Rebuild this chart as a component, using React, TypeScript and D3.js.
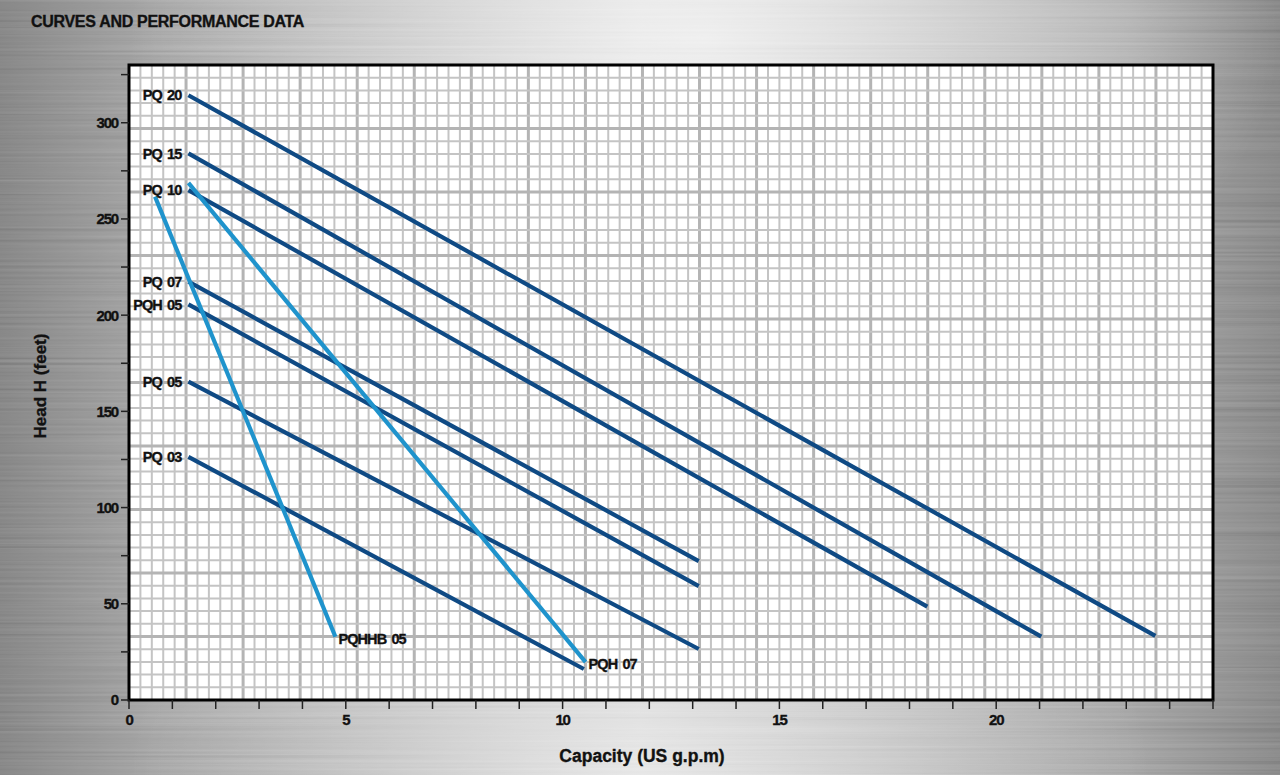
import React from "react";
import * as d3 from "d3";

const W = 1280;
const H = 775;

// Series (capacity in US gpm, head in feet)
const seriesNames = ["PQ 20", "PQ 15", "PQ 10", "PQ 07", "PQH 05", "PQ 05", "PQ 03", "PQH 07", "PQHHB 05"];
const seriesKind = ["dark", "dark", "dark", "dark", "dark", "dark", "dark", "light", "light"];
const labelAt = ["start", "start", "start", "start", "start", "start", "start", "end", "end"];
const seriesX = [
  [1.37, 23.67],
  [1.37, 21.04],
  [1.37, 18.41],
  [1.37, 13.14],
  [1.37, 13.14],
  [1.37, 13.14],
  [1.37, 10.49],
  [1.37, 10.53],
  [0.6, 4.76],
];
const seriesY = [
  [314.3, 33.3],
  [284.1, 32.9],
  [265.0, 48.5],
  [217.4, 72.2],
  [205.6, 59.2],
  [165.4, 26.5],
  [126.4, 16.1],
  [268.7, 19.7],
  [261.6, 32.9],
];

const xTicks = d3.range(0, 26, 1);
const xTickLabels = [0, 5, 10, 15, 20];
const yTicks = d3.range(0, 330, 25);
const yTickLabels = [0, 50, 100, 150, 200, 250, 300];

const GRID_COLS = 95;
const GRID_ROWS = 50;

const FONT = "'Liberation Sans', Arial, Helvetica, sans-serif";
const DARK = "#0f4a84";
const LIGHT = "#1f93cc";

export default function App() {
  const left = 129, right = 1213, top = 65, bottom = 700;
  const x = d3.scaleLinear().domain([0, 25]).range([left, right]);
  const y = d3.scaleLinear().domain([0, 330]).range([bottom, top]);
  const gx = d3.scaleLinear().domain([0, GRID_COLS]).range([left, right]);
  const gy = d3.scaleLinear().domain([0, GRID_ROWS]).range([bottom, top]);
  const line = d3.line<[number, number]>().x((d) => x(d[0])).y((d) => y(d[1]));

  const textStroke = { stroke: "#111", strokeWidth: 0.35 };

  return (
    <svg width={W} height={H} style={{ position: "absolute", left: 0, top: 0, display: "block" }}>
      <defs>
        <linearGradient id="bgH" x1="0" y1="0" x2="1" y2="0">
          <stop offset="0" stopColor="#777777" />
          <stop offset="0.12" stopColor="#a0a0a0" />
          <stop offset="0.5" stopColor="#d8d8d8" />
          <stop offset="0.88" stopColor="#a2a2a2" />
          <stop offset="1" stopColor="#7b7b7b" />
        </linearGradient>
        <radialGradient id="bgGlow" cx="0.55" cy="0.05" r="0.45">
          <stop offset="0" stopColor="#ffffff" stopOpacity="0.7" />
          <stop offset="1" stopColor="#ffffff" stopOpacity="0" />
        </radialGradient>
        <radialGradient id="bgGlow2" cx="0.5" cy="1" r="0.4">
          <stop offset="0" stopColor="#ffffff" stopOpacity="0.5" />
          <stop offset="1" stopColor="#ffffff" stopOpacity="0" />
        </radialGradient>
        <filter id="brush" x="0" y="0" width="100%" height="100%">
          <feTurbulence type="fractalNoise" baseFrequency="0.002 0.35" numOctaves="2" seed="4" />
          <feColorMatrix type="matrix" values="0.33 0.33 0.33 0 0  0.33 0.33 0.33 0 0  0.33 0.33 0.33 0 0  0 0 0 0 1" />
        </filter>
      </defs>

      {/* brushed metal background */}
      <rect x={0} y={0} width={W} height={H} fill="url(#bgH)" />
      <rect x={0} y={0} width={W} height={H} filter="url(#brush)" opacity={0.26} />
      <rect x={0} y={0} width={W} height={H} fill="url(#bgGlow)" />
      <rect x={0} y={0} width={W} height={H} fill="url(#bgGlow2)" />

      <text x={31} y={27} fontFamily={FONT} fontWeight="bold" fontSize={16} letterSpacing={-0.3} fill="#111" {...textStroke}>
        CURVES AND PERFORMANCE DATA
      </text>

      {/* plot area */}
      <rect x={left} y={top} width={right - left} height={bottom - top} fill="#ffffff" />
      <g>
        {d3.range(1, GRID_COLS).map((i) => (
          <line key={"gc" + i} x1={gx(i)} x2={gx(i)} y1={top} y2={bottom}
            stroke={i % 5 === 0 ? "#b4b4b4" : "#c4c4c4"} strokeWidth={i % 5 === 0 ? 3 : 2} />
        ))}
        {d3.range(1, GRID_ROWS).map((i) => (
          <line key={"gr" + i} y1={gy(i)} y2={gy(i)} x1={left} x2={right}
            stroke={i % 5 === 0 ? "#b4b4b4" : "#c4c4c4"} strokeWidth={i % 5 === 0 ? 3 : 2} />
        ))}
      </g>

      {/* border */}
      <path d={`M${left},${bottom} L${left},${top} L${right},${top} L${right},${bottom} Z`} fill="none" stroke="#000" strokeWidth={3} />

      {/* y ticks */}
      <g>
        {yTicks.map((t) => (
          <line key={"yt" + t} x1={left - 8} x2={left} y1={y(t)} y2={y(t)} stroke="#222" strokeWidth={1.5} />
        ))}
        {yTickLabels.map((t) => (
          <text key={"yl" + t} x={left - 11} y={y(t)} dy="0.36em" textAnchor="end" fontFamily={FONT}
            fontWeight="bold" fontSize={15} letterSpacing={-1.2} fill="#111" {...textStroke}>
            {t}
          </text>
        ))}
      </g>
      {/* x ticks */}
      <g>
        {xTicks.map((t) => (
          <line key={"xt" + t} x1={x(t)} x2={x(t)} y1={bottom} y2={bottom + 9} stroke="#222" strokeWidth={1.5} />
        ))}
        {xTickLabels.map((t) => (
          <text key={"xl" + t} x={x(t)} y={725} textAnchor="middle" fontFamily={FONT}
            fontWeight="bold" fontSize={15} letterSpacing={-1.2} fill="#111" {...textStroke}>
            {t}
          </text>
        ))}
      </g>

      {/* curves */}
      <g>
        {seriesNames.map((name, i) => {
          const pts = seriesX[i].map((v, j) => [v, seriesY[i][j]] as [number, number]);
          return (
            <path key={name} d={line(pts) || ""} fill="none"
              stroke={seriesKind[i] === "dark" ? DARK : LIGHT} strokeWidth={4.2} strokeLinecap="butt" />
          );
        })}
      </g>

      {/* labels */}
      <g>
        {seriesNames.map((name, i) => {
          const n = seriesX[i].length;
          const atStart = labelAt[i] === "start";
          const px = atStart ? x(seriesX[i][0]) - 7 : x(seriesX[i][n - 1]) + 3;
          const py = atStart ? y(seriesY[i][0]) : y(seriesY[i][n - 1]) + 2;
          return (
            <text key={"lab" + name} x={px} y={py} dy="0.36em" textAnchor={atStart ? "end" : "start"}
              fontFamily={FONT} fontWeight="bold" fontSize={14.5} letterSpacing={-0.9} wordSpacing={2} fill="#111" {...textStroke}>
              {name}
            </text>
          );
        })}
      </g>

      {/* axis titles */}
      <text transform="translate(46,386) rotate(-90)" textAnchor="middle" fontFamily={FONT}
        fontWeight="bold" fontSize={17} fill="#111" {...textStroke}>
        Head H (feet)
      </text>
      <text x={642} y={762} textAnchor="middle" fontFamily={FONT} fontWeight="bold" fontSize={17.5} fill="#111" {...textStroke}>
        Capacity (US g.p.m)
      </text>
    </svg>
  );
}
